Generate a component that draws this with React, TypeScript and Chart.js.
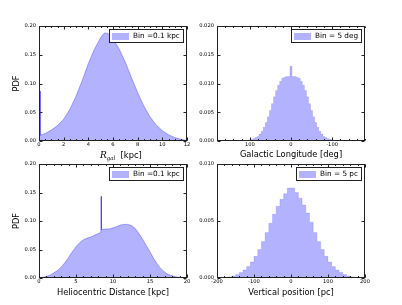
import { useEffect, useRef } from 'react';
import { Chart, registerables } from 'chart.js';

Chart.register(...registerables);

// ---------- Data ----------
// Panel 1: Galactocentric radius (kpc), bin 0.1 kpc
const rgalX = [0, 0.1, 0.1, 0.5, 1.0, 1.5, 2.0, 2.5, 3.0, 3.5, 4.0, 4.5, 5.0, 5.3, 5.6, 6.0, 6.5, 7.0, 7.5, 8.0, 8.5, 9.0, 9.5, 10.0, 10.5, 11.0, 11.5, 12.0];
const rgalPdf = [0.087, 0.087, 0.010, 0.013, 0.019, 0.027, 0.038, 0.055, 0.078, 0.105, 0.135, 0.160, 0.180, 0.188, 0.187, 0.178, 0.160, 0.137, 0.110, 0.084, 0.061, 0.042, 0.028, 0.018, 0.011, 0.006, 0.003, 0.001];
const rgalXTicks = [0, 2, 4, 6, 8, 10, 12];
const pdfTicks02 = [0, 0.05, 0.1, 0.15, 0.2];

// Panel 2: Galactic longitude (deg), bin 5 deg
const lonBins = [-130, -125, -120, -115, -110, -105, -100, -95, -90, -85, -80, -75, -70, -65, -60, -55, -50, -45, -40, -35, -30, -25, -20, -15, -10, -5, 0, 5, 10, 15, 20, 25, 30, 35, 40, 45, 50, 55, 60, 65, 70, 75, 80, 85, 90, 95, 100, 105, 110, 115, 120, 125, 130];
const lonPdf = [0.00002, 0.00003, 0.00005, 0.00008, 0.0001, 0.00015, 0.0002, 0.0003, 0.0004, 0.0006, 0.0008, 0.0012, 0.0017, 0.0024, 0.0032, 0.0042, 0.0053, 0.0065, 0.0077, 0.0088, 0.0097, 0.0104, 0.0109, 0.0111, 0.0112, 0.0112, 0.0130, 0.0112, 0.0112, 0.0111, 0.0109, 0.0104, 0.0097, 0.0088, 0.0077, 0.0065, 0.0053, 0.0042, 0.0032, 0.0024, 0.0017, 0.0012, 0.0008, 0.0006, 0.0004, 0.0003, 0.0002, 0.00015, 0.0001, 0.00008, 0.00005, 0.00003, 0.00002];
const lonXTicks = [100, 0, -100];
const pdfTicks020 = [0, 0.005, 0.01, 0.015, 0.02];

// Panel 3: Heliocentric distance (kpc), bin 0.1 kpc
const distX = [0, 0.5, 1, 1.5, 2, 2.5, 3, 3.5, 4, 4.5, 5, 5.5, 6, 6.5, 7, 7.5, 8, 8.35, 8.35, 8.45, 8.45, 9, 9.5, 10, 10.5, 11, 11.5, 12, 12.5, 13, 13.5, 14, 14.5, 15, 15.5, 16, 16.5, 17, 17.5, 18, 18.5, 19, 19.5, 20];
const distPdf = [0, 0.001, 0.003, 0.005, 0.009, 0.013, 0.019, 0.027, 0.036, 0.046, 0.055, 0.062, 0.067, 0.070, 0.072, 0.075, 0.078, 0.080, 0.143, 0.143, 0.085, 0.086, 0.086, 0.088, 0.090, 0.093, 0.094, 0.094, 0.092, 0.087, 0.078, 0.068, 0.057, 0.046, 0.034, 0.024, 0.016, 0.010, 0.006, 0.004, 0.002, 0.0012, 0.0006, 0.0003];
const distXTicks = [0, 5, 10, 15, 20];

// Panel 4: Vertical position (pc)
const zBins = [-195, -185, -175, -165, -155, -145, -135, -125, -115, -105, -95, -85, -75, -65, -55, -45, -35, -25, -15, -5, 5, 15, 25, 35, 45, 55, 65, 75, 85, 95, 105, 115, 125, 135, 145, 155, 165, 175, 185, 195];
const zPdf = [0.00002, 0.00004, 0.00006, 0.0001, 0.00017, 0.0003, 0.00048, 0.0007, 0.001, 0.0014, 0.0019, 0.0025, 0.0032, 0.004, 0.0048, 0.0056, 0.0063, 0.0069, 0.0074, 0.0079, 0.0079, 0.0075, 0.0070, 0.0064, 0.0057, 0.0049, 0.0040, 0.0032, 0.0025, 0.0019, 0.0014, 0.0010, 0.0007, 0.00048, 0.0003, 0.00018, 0.0001, 0.00006, 0.00003, 0.00002];
const zXTicks = [-200, -100, 0, 100, 200];
const pdfTicks010 = [0, 0.005, 0.01];

// ---------- Styling ----------
const FONT = 'DejaVu Sans';
const FILL = 'rgba(0,0,255,0.3)';
const W = 402;
const H = 305;

const frameTicks = {
  id: 'frameTicks',
  afterDraw(chart: any, _a: any, opts: any) {
    const { ctx, chartArea: a, scales } = chart;
    const L = Math.round(a.left) + 0.5;
    const R = Math.round(a.right) - 0.5;
    const T = Math.round(a.top) + 0.5;
    const B = Math.round(a.bottom) - 0.5;
    ctx.save();
    ctx.strokeStyle = '#222';
    ctx.lineWidth = 1;
    ctx.beginPath();
    const xs = scales.x;
    const ys = scales.y;
    const major = 3;
    const minor = 1.5;
    xs.ticks.forEach((t: any) => {
      const p = Math.round(xs.getPixelForValue(t.value)) + 0.5;
      ctx.moveTo(p, B); ctx.lineTo(p, B - major);
      ctx.moveTo(p, T); ctx.lineTo(p, T + major);
    });
    if (opts.xMinorStep) {
      const lo = Math.min(xs.min, xs.max);
      const hi = Math.max(xs.min, xs.max);
      const start = Math.ceil(lo / opts.xMinorStep) * opts.xMinorStep;
      for (let v = start; v <= hi + 1e-9; v += opts.xMinorStep) {
        const p = Math.round(xs.getPixelForValue(v)) + 0.5;
        ctx.moveTo(p, B); ctx.lineTo(p, B - minor);
        ctx.moveTo(p, T); ctx.lineTo(p, T + minor);
      }
    }
    ys.ticks.forEach((t: any) => {
      const p = Math.round(ys.getPixelForValue(t.value)) + 0.5;
      ctx.moveTo(L, p); ctx.lineTo(L + major, p);
      ctx.moveTo(R, p); ctx.lineTo(R - major, p);
    });
    ctx.stroke();
    ctx.strokeRect(L, T, R - L, B - T);
    ctx.restore();
  },
};

const boxLegend = {
  id: 'boxLegend',
  afterDraw(chart: any) {
    const { ctx, chartArea: a } = chart;
    const ds = chart.data.datasets[0];
    ctx.save();
    ctx.font = `7.3px "${FONT}"`;
    const tw = ctx.measureText(ds.label).width;
    const w = Math.round(3 + 17 + 4 + tw + 4);
    const h = 14;
    const right = Math.round(a.right) - 3;
    const left = right - w;
    const top = Math.round(a.top) + 3;
    ctx.fillStyle = '#fff';
    ctx.fillRect(left, top, w, h);
    ctx.strokeStyle = '#222';
    ctx.lineWidth = 1;
    ctx.strokeRect(left + 0.5, top + 0.5, w - 1, h - 1);
    ctx.fillStyle = ds.backgroundColor;
    ctx.fillRect(left + 3, top + 4, 17, 7);
    ctx.fillStyle = '#000';
    ctx.textBaseline = 'middle';
    ctx.textAlign = 'left';
    ctx.fillText(ds.label, left + 24, top + 7.5);
    ctx.restore();
  },
};

const mathTitle = {
  id: 'mathTitle',
  afterDraw(chart: any, _a: any, opts: any) {
    if (!opts.enabled) return;
    const { ctx } = chart;
    ctx.save();
    ctx.fillStyle = '#000';
    ctx.textBaseline = 'alphabetic';
    ctx.textAlign = 'left';
    let x = opts.x;
    const y = opts.y;
    ctx.font = 'italic 9px "DejaVu Serif"';
    ctx.fillText('R', x, y);
    x += ctx.measureText('R').width;
    ctx.font = 'italic 5.5px "DejaVu Serif"';
    ctx.fillText('gal', x, y + 2);
    x += ctx.measureText('gal').width;
    ctx.font = `8.3px "${FONT}"`;
    ctx.fillText('  [kpc]', x, y);
    ctx.restore();
  },
};

type Panel = {
  xs: number[];
  ys: number[];
  label: string;
  stepped: boolean;
  xMin: number;
  xMax: number;
  reverse: boolean;
  xTicks: number[];
  yTicks: number[];
  yMax: number;
  xDec: number;
  yDec: number;
  xTitle: string;
  yTitle: string;
  pad: { left: number; top: number; right: number; bottom: number };
  yWidth: number;
  xTitlePadBottom: number;
  xMinorStep: number;
  math?: { x: number; y: number };
};

const panels: Panel[] = [
  {
    xs: rgalX, ys: rgalPdf, label: 'Bin =0.1 kpc', stepped: false,
    xMin: 0, xMax: 12, reverse: false, xTicks: rgalXTicks, yTicks: pdfTicks02, yMax: 0.2,
    xDec: 0, yDec: 2, xTitle: '', yTitle: 'PDF',
    pad: { left: 0, top: 26, right: W - 187, bottom: H - 141 - 24 }, yWidth: 39,
    xTitlePadBottom: 5.85, xMinorStep: 0.5, math: { x: 100, y: 158 },
  },
  {
    xs: lonBins, ys: lonPdf, label: 'Bin = 5 deg', stepped: true,
    xMin: -180, xMax: 180, reverse: true, xTicks: lonXTicks, yTicks: pdfTicks020, yMax: 0.02,
    xDec: 0, yDec: 3, xTitle: 'Galactic Longitude [deg]', yTitle: '',
    pad: { left: 217 - 30, top: 26, right: W - 365, bottom: H - 141 - 24 }, yWidth: 30,
    xTitlePadBottom: 5.85, xMinorStep: 20,
  },
  {
    xs: distX, ys: distPdf, label: 'Bin =0.1 kpc', stepped: false,
    xMin: 0, xMax: 20, reverse: false, xTicks: distXTicks, yTicks: pdfTicks02, yMax: 0.2,
    xDec: 0, yDec: 2, xTitle: 'Heliocentric Distance [kpc]', yTitle: 'PDF',
    pad: { left: 0, top: 164, right: W - 187, bottom: H - 278 - 24 }, yWidth: 39,
    xTitlePadBottom: 4.85, xMinorStep: 1,
  },
  {
    xs: zBins, ys: zPdf, label: 'Bin = 5 pc', stepped: true,
    xMin: -200, xMax: 200, reverse: false, xTicks: zXTicks, yTicks: pdfTicks010, yMax: 0.01,
    xDec: 0, yDec: 3, xTitle: 'Vertical position [pc]', yTitle: '',
    pad: { left: 217 - 30, top: 164, right: W - 365, bottom: H - 278 - 24 }, yWidth: 30,
    xTitlePadBottom: 4.85, xMinorStep: 20,
  },
];

function makeConfig(p: Panel): any {
  return {
    type: 'line',
    data: {
      datasets: [
        {
          label: p.label,
          data: p.xs.map((x, i) => ({ x, y: p.ys[i] })),
          backgroundColor: FILL,
          borderColor: p.stepped ? 'rgba(0,0,255,0.12)' : 'rgba(0,0,255,0.3)',
          borderWidth: 1,
          fill: 'origin',
          pointRadius: 0,
          tension: 0,
          stepped: p.stepped ? 'middle' : false,
        },
      ],
    },
    options: {
      animation: false,
      responsive: false,
      events: [],
      layout: { padding: p.pad },
      plugins: {
        legend: { display: false },
        tooltip: { enabled: false },
        frameTicks: { xMinorStep: p.xMinorStep },
        mathTitle: p.math ? { enabled: true, x: p.math.x, y: p.math.y } : { enabled: false },
      },
      scales: {
        x: {
          type: 'linear',
          min: p.xMin,
          max: p.xMax,
          reverse: p.reverse,
          offset: false,
          grid: { display: false, drawTicks: false, tickLength: 0 },
          border: { display: false },
          afterBuildTicks: (s: any) => { s.ticks = p.xTicks.map((v) => ({ value: v })); },
          afterFit: (s: any) => { s.height = 24; },
          ticks: {
            autoSkip: false,
            maxRotation: 0,
            padding: 1,
            color: '#000',
            font: { family: FONT, size: 5.2 },
            callback: (v: any) => Number(v).toFixed(p.xDec),
          },
          title: {
            display: !!p.xTitle,
            text: p.xTitle,
            color: '#000',
            font: { family: FONT, size: 8.3, lineHeight: 1 },
            padding: { top: 0, bottom: p.xTitlePadBottom },
          },
        },
        y: {
          type: 'linear',
          min: 0,
          max: p.yMax,
          grid: { display: false, drawTicks: false, tickLength: 0 },
          border: { display: false },
          afterBuildTicks: (s: any) => { s.ticks = p.yTicks.map((v) => ({ value: v })); },
          afterFit: (s: any) => { s.width = p.yWidth; },
          ticks: {
            autoSkip: false,
            padding: 3,
            color: '#000',
            font: { family: FONT, size: 5.2 },
            callback: (v: any) => Number(v).toFixed(p.yDec),
          },
          title: {
            display: !!p.yTitle,
            text: p.yTitle,
            color: '#000',
            font: { family: FONT, size: 8.3, lineHeight: 1 },
            padding: { top: 12.85, bottom: 0 },
          },
        },
      },
    },
    plugins: [boxLegend, frameTicks, mathTitle],
  };
}

function PanelChart({ p }: { p: Panel }) {
  const ref = useRef<HTMLCanvasElement | null>(null);
  useEffect(() => {
    if (!ref.current) return;
    const chart = new Chart(ref.current, makeConfig(p));
    return () => chart.destroy();
  }, [p]);
  return (
    <canvas
      ref={ref}
      width={W}
      height={H}
      style={{ position: 'absolute', left: 0, top: 0, width: W, height: H }}
    />
  );
}

export default function App() {
  return (
    <div style={{ position: 'fixed', left: 0, top: 0, width: W, height: H, background: '#fff' }}>
      {panels.map((p, i) => (
        <PanelChart key={i} p={p} />
      ))}
    </div>
  );
}
